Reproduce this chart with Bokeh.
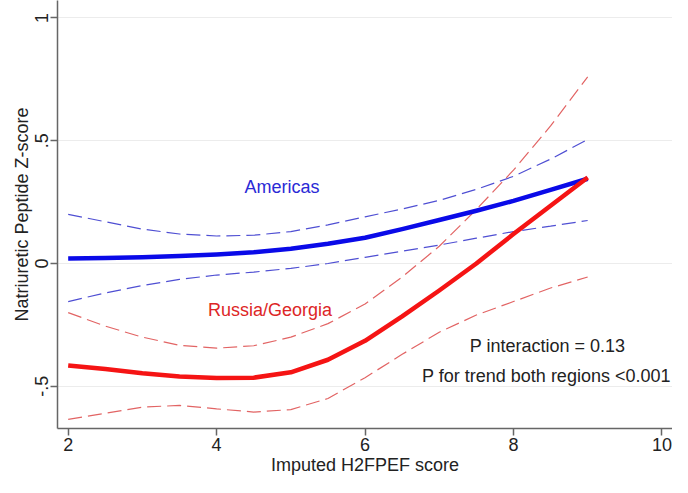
from bokeh.plotting import figure
from bokeh.models import Range1d, FixedTicker
from bokeh.core.properties import value
from bokeh.embed import file_html
from bokeh.resources import INLINE

# ---- data ----
score = [2, 2.5, 3, 3.5, 4, 4.5, 5, 5.5, 6, 6.5, 7, 7.5, 8, 8.5, 9]

americas_fit = [0.02, 0.022, 0.025, 0.03, 0.037, 0.046, 0.06, 0.08, 0.105, 0.14, 0.177, 0.215, 0.255, 0.3, 0.345]
americas_hi = [0.20, 0.17, 0.14, 0.12, 0.112, 0.115, 0.13, 0.157, 0.19, 0.222, 0.257, 0.302, 0.355, 0.425, 0.505]
americas_lo = [-0.155, -0.12, -0.09, -0.065, -0.047, -0.035, -0.02, 0.0, 0.025, 0.05, 0.075, 0.103, 0.13, 0.152, 0.175]

russia_fit = [-0.415, -0.43, -0.447, -0.46, -0.466, -0.465, -0.443, -0.392, -0.315, -0.215, -0.11, 0.0, 0.12, 0.235, 0.35]
russia_hi = [-0.20, -0.255, -0.30, -0.333, -0.345, -0.335, -0.30, -0.245, -0.165, -0.055, 0.07, 0.22, 0.38, 0.56, 0.76]
russia_lo = [-0.635, -0.61, -0.585, -0.578, -0.592, -0.605, -0.595, -0.55, -0.465, -0.37, -0.28, -0.21, -0.155, -0.1, -0.055]

x_ticks = [2, 4, 6, 8, 10]
y_ticks = [-0.5, 0, 0.5, 1]
y_tick_labels = ["-.5", "0", ".5", "1"]

FONT = "Liberation Sans"

p = figure(width=672, height=477, output_backend="svg", toolbar_location=None,
           x_range=Range1d(1.856, 10.143), y_range=Range1d(-0.672, 1.071),
           min_border_left=57, min_border_right=0, min_border_top=0, min_border_bottom=0)
p.outline_line_color = None
p.background_fill_color = "white"
p.border_fill_color = "white"

# grid
p.xgrid.visible = False
p.ygrid.grid_line_color = "#ececec"
p.ygrid.grid_line_width = 1.2

# axes
p.xaxis.ticker = FixedTicker(ticks=x_ticks)
p.yaxis.ticker = FixedTicker(ticks=y_ticks)
p.yaxis.major_label_overrides = {t: l for t, l in zip(y_ticks, y_tick_labels)}
p.yaxis.major_label_orientation = "vertical"
p.xaxis.axis_label = "Imputed H2FPEF score"
p.yaxis.axis_label = "Natriuretic Peptide Z-score"
for ax in (p.xaxis[0], p.yaxis[0]):
    ax.axis_line_color = "#666666"
    ax.axis_line_width = 1.5
    ax.major_tick_line_color = "#666666"
    ax.major_tick_line_width = 1.5
    ax.major_tick_out = 7
    ax.major_tick_in = 0
    ax.minor_tick_line_color = None
    ax.major_label_text_font = FONT
    ax.major_label_text_font_size = "18px"
    ax.major_label_text_color = "#222222"
    ax.major_label_standoff = 2
    ax.axis_label_text_font = FONT
    ax.axis_label_text_font_size = "18px"
    ax.axis_label_text_font_style = "normal"
    ax.axis_label_text_color = "#222222"
    ax.axis_label_standoff = 1

# confidence bands (dashed)
p.line(score, americas_hi, line_color="#4f4fd3", line_width=1.2, line_dash="14 6")
p.line(score, americas_lo, line_color="#4f4fd3", line_width=1.2, line_dash="14 6")
p.line(score, russia_hi, line_color="#e26464", line_width=1.2, line_dash="14 6")
p.line(score, russia_lo, line_color="#e26464", line_width=1.2, line_dash="14 6")

# fitted curves
p.line(score, americas_fit, line_color="#0a0ae8", line_width=4.5, line_join="round")
p.line(score, russia_fit, line_color="#f51414", line_width=4.5, line_join="round")

# annotations
p.text(x=[4.88], y=[0.312], text=["Americas"], text_font=value(FONT), text_font_size="18px",
       text_color="#2a2ad6", text_align="center", text_baseline="middle")
p.text(x=[4.72], y=[-0.19], text=["Russia/Georgia"], text_font=value(FONT), text_font_size="18px",
       text_color="#dd2626", text_align="center", text_baseline="middle")
p.text(x=[8.46], y=[-0.336], text=["P interaction = 0.13"], text_font=value(FONT), text_font_size="18px",
       text_color="#222222", text_align="center", text_baseline="middle")
p.text(x=[10.12], y=[-0.46], text=["P for trend both regions <0.001"], text_font=value(FONT),
       text_font_size="18px", text_color="#222222", text_align="right", text_baseline="middle")

open("out.html", "w").write(file_html(p, INLINE))
